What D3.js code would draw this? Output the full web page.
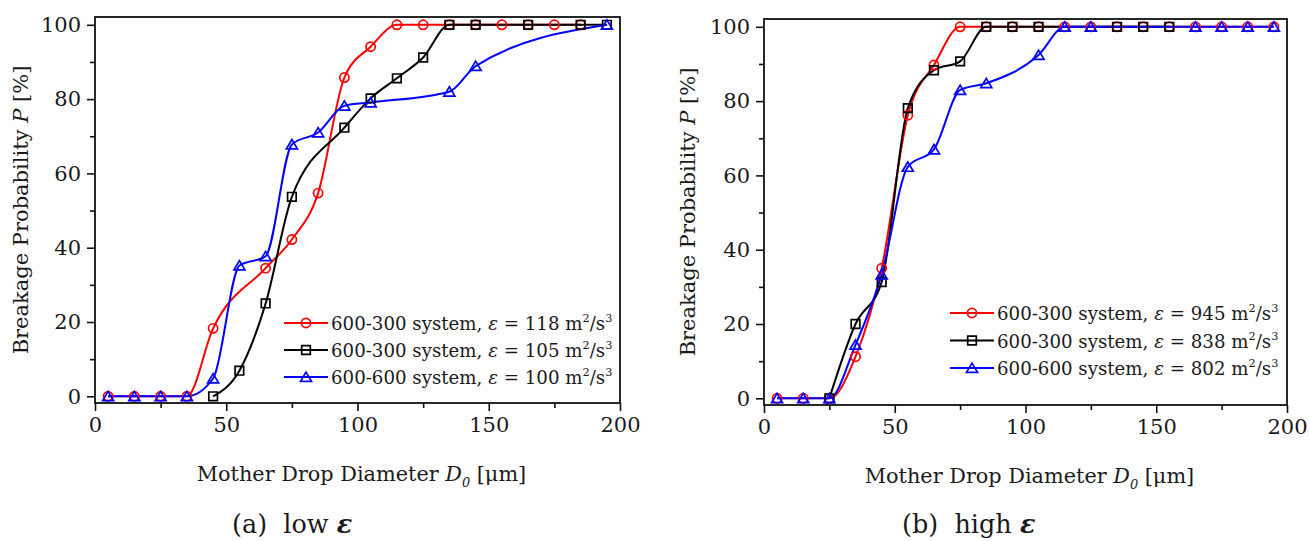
<!DOCTYPE html>
<html>
<head>
<meta charset="utf-8">
<script src="https://cdn.jsdelivr.net/npm/d3@7"></script>
<style>
  body { margin: 0; background: #fff; }
  svg { display: block; }
  text { font-family: "DejaVu Serif", serif; fill: #1a1a1a; white-space: pre; }
</style>
</head>
<body>
<svg id="chart" width="1309" height="541"></svg>
<script>
// ---- Measured breakage probability P [%] vs mother drop diameter D0 [µm] ----

// (a) low dissipation rate
const lowRedD   = [5, 15, 25, 35, 45, 65, 75, 85, 95, 105, 115, 125, 135, 145, 155, 165, 175, 185];
const lowRedP   = [0, 0, 0, 0, 18.3, 34.5, 42.2, 54.7, 85.8, 94.1, 100, 100, 100, 100, 100, 100, 100, 100];
const lowBlackD = [45, 55, 65, 75, 95, 105, 115, 125, 135, 145, 165, 185, 195];
const lowBlackP = [0, 6.9, 25.0, 53.7, 72.3, 80.2, 85.6, 91.2, 100, 100, 100, 100, 100];
const lowBlueD  = [5, 15, 25, 35, 45, 55, 65, 75, 85, 95, 105, 135, 145, 195];
const lowBlueP  = [0, 0, 0, 0, 4.8, 35.2, 37.7, 67.8, 71.0, 78.2, 79.1, 82.0, 88.9, 100];

// (b) high dissipation rate
const highRedD   = [5, 15, 25, 35, 45, 55, 65, 75, 85, 95, 105, 115, 125, 135, 145, 155, 165, 175, 185, 195];
const highRedP   = [0, 0, 0, 11.2, 35.0, 76.2, 89.7, 100, 100, 100, 100, 100, 100, 100, 100, 100, 100, 100, 100, 100];
const highBlackD = [25, 35, 45, 55, 65, 75, 85, 95, 105, 135, 145, 155];
const highBlackP = [0, 20.0, 31.3, 78.1, 88.3, 90.7, 100, 100, 100, 100, 100, 100];
const highBlueD  = [5, 15, 25, 35, 45, 55, 65, 75, 85, 105, 115, 125, 165, 175, 185, 195];
const highBlueP  = [0, 0, 0, 14.4, 33.3, 62.3, 67.0, 83.0, 84.8, 92.4, 100, 100, 100, 100, 100, 100];

// legend labels: system name and dissipation rate ε [m²/s³]
const systemNames = ["600-300 system", "600-300 system", "600-600 system"];
const lowEps  = ["118", "105", "100"];
const highEps = ["945", "838", "802"];

// axis ticks
const xMajorTicks = [0, 50, 100, 150, 200];
const xMinorTicks = [25, 75, 125, 175];
const yMajorTicks = [0, 20, 40, 60, 80, 100];
const yMinorTicks = [10, 30, 50, 70, 90];

const seriesStyle = [
  { color: "#ff0000", symbol: "circle" },
  { color: "#000000", symbol: "square" },
  { color: "#0000ff", symbol: "triangle" }
];

const panels = [
  {
    left: 95, right: 620, top: 17, bottom: 403,
    series: [[lowRedD, lowRedP], [lowBlackD, lowBlackP], [lowBlueD, lowBlueP]],
    eps: lowEps,
    legend: { x: 284, y: 323, gap: 27 },
    yTitleX: 21,
    caption: { x: 232, label: "(a)", word: "low" }
  },
  {
    left: 764, right: 1287, top: 19, bottom: 405,
    series: [[highRedD, highRedP], [highBlackD, highBlackP], [highBlueD, highBlueP]],
    eps: highEps,
    legend: { x: 950, y: 313, gap: 27.5 },
    yTitleX: 688,
    caption: { x: 902, label: "(b)", word: "high" }
  }
];

const svg = d3.select("#chart");

// rich text: segments of {t, s} where s is "", "i", "bi", "sup", "isub"
function richText(sel, segs, size) {
  let shift = 0;
  segs.forEach(seg => {
    const ts = sel.append("tspan").text(seg.t);
    let target = 0;
    if (seg.s === "sup") target = -0.42 * size;
    if (seg.s === "isub") target = 0.3 * size;
    if (seg.s === "sup" || seg.s === "isub") ts.attr("font-size", size * 0.62);
    if (seg.s === "i" || seg.s === "bi" || seg.s === "isub") ts.attr("font-style", "italic");
    if (seg.s === "bi") ts.attr("font-weight", "bold");
    if (target !== shift) { ts.attr("dy", target - shift); shift = target; }
  });
}

function symbolPath(kind) {
  if (kind === "circle") return "M4.6,0A4.6,4.6,0,1,1,-4.6,0A4.6,4.6,0,1,1,4.6,0Z";
  if (kind === "square") return "M-4.3,-4.3H4.3V4.3H-4.3Z";
  return "M0,-4.9L5.5,4.4L-5.5,4.4Z";
}

panels.forEach(p => {
  const x = d3.scaleLinear().domain([0, 200]).range([p.left, p.right]);
  const y = d3.scaleLinear().domain([-1.8, 102.1]).range([p.bottom, p.top]);
  const g = svg.append("g");

  // axes with outward ticks
  const xAxis = g.append("g").attr("transform", `translate(0,${p.bottom})`)
    .call(d3.axisBottom(x).tickValues(xMajorTicks).tickSize(8).tickSizeOuter(0).tickPadding(6));
  g.append("g").attr("transform", `translate(0,${p.bottom})`)
    .call(d3.axisBottom(x).tickValues(xMinorTicks).tickSize(5).tickSizeOuter(0).tickFormat(""));
  const yAxis = g.append("g").attr("transform", `translate(${p.left},0)`)
    .call(d3.axisLeft(y).tickValues(yMajorTicks).tickSize(8).tickSizeOuter(0).tickPadding(6));
  g.append("g").attr("transform", `translate(${p.left},0)`)
    .call(d3.axisLeft(y).tickValues(yMinorTicks).tickSize(5).tickSizeOuter(0).tickFormat(""));

  g.selectAll(".domain").remove();
  g.selectAll(".tick line").attr("stroke", "#111").attr("stroke-width", 1.6);
  xAxis.selectAll(".tick text").attr("font-size", 21).attr("font-family", "DejaVu Serif").attr("fill", "#1a1a1a");
  yAxis.selectAll(".tick text").attr("font-size", 21).attr("font-family", "DejaVu Serif").attr("fill", "#1a1a1a");

  // frame
  g.append("rect")
    .attr("x", p.left).attr("y", p.top)
    .attr("width", p.right - p.left).attr("height", p.bottom - p.top)
    .attr("fill", "none").attr("stroke", "#111").attr("stroke-width", 1.8);

  // smooth curves through the measured points
  const line = d3.line().x(d => x(d[0])).y(d => y(d[1])).curve(d3.curveMonotoneX);
  p.series.forEach((s, i) => {
    const pts = s[0].map((d, k) => [d, s[1][k]]);
    g.append("path").datum(pts)
      .attr("d", line)
      .attr("fill", "none")
      .attr("stroke", seriesStyle[i].color)
      .attr("stroke-width", 2);
  });
  // open symbols at the measured points
  p.series.forEach((s, i) => {
    const pts = s[0].map((d, k) => [d, s[1][k]]);
    g.selectAll(null).data(pts).enter().append("path")
      .attr("transform", d => `translate(${x(d[0])},${y(d[1])})`)
      .attr("d", symbolPath(seriesStyle[i].symbol))
      .attr("fill", "none")
      .attr("stroke", seriesStyle[i].color)
      .attr("stroke-width", 1.7);
  });

  // legend
  seriesStyle.forEach((st, i) => {
    const ly = p.legend.y + i * p.legend.gap;
    g.append("line")
      .attr("x1", p.legend.x).attr("x2", p.legend.x + 44)
      .attr("y1", ly).attr("y2", ly)
      .attr("stroke", st.color).attr("stroke-width", 2);
    g.append("path")
      .attr("transform", `translate(${p.legend.x + 22},${ly})`)
      .attr("d", symbolPath(st.symbol))
      .attr("fill", "none").attr("stroke", st.color).attr("stroke-width", 1.7);
    const t = g.append("text")
      .attr("x", p.legend.x + 47).attr("y", ly + 7)
      .attr("font-size", 18.2);
    richText(t, [
      { t: systemNames[i] + ", ", s: "" },
      { t: "\u03b5", s: "i" },
      { t: " = " + p.eps[i] + " m", s: "" },
      { t: "2", s: "sup" },
      { t: "/s", s: "" },
      { t: "3", s: "sup" }
    ], 18.2);
  });

  // axis titles
  const yt = g.append("text")
    .attr("transform", `translate(${p.yTitleX},${(p.top + p.bottom) / 2}) rotate(-90)`)
    .attr("text-anchor", "middle").attr("dy", "0.35em")
    .attr("font-size", 21);
  richText(yt, [
    { t: "Breakage Probability ", s: "" },
    { t: "P", s: "i" },
    { t: " [%]", s: "" }
  ], 21);

  const xt = g.append("text")
    .attr("x", (p.left + p.right) / 2 + 4).attr("y", p.bottom + 78)
    .attr("text-anchor", "middle")
    .attr("font-size", 20.8);
  richText(xt, [
    { t: "Mother Drop Diameter ", s: "" },
    { t: "D", s: "i" },
    { t: "0", s: "isub" },
    { t: " [\u03bcm]", s: "" }
  ], 20.8);

  // panel caption
  const ct = g.append("text")
    .attr("x", p.caption.x).attr("y", 533)
    .attr("font-size", 25.5);
  richText(ct, [
    { t: p.caption.label + "  " + p.caption.word + " ", s: "" },
    { t: "\u03b5", s: "bi" }
  ], 25.5);
});
</script>
</body>
</html>
